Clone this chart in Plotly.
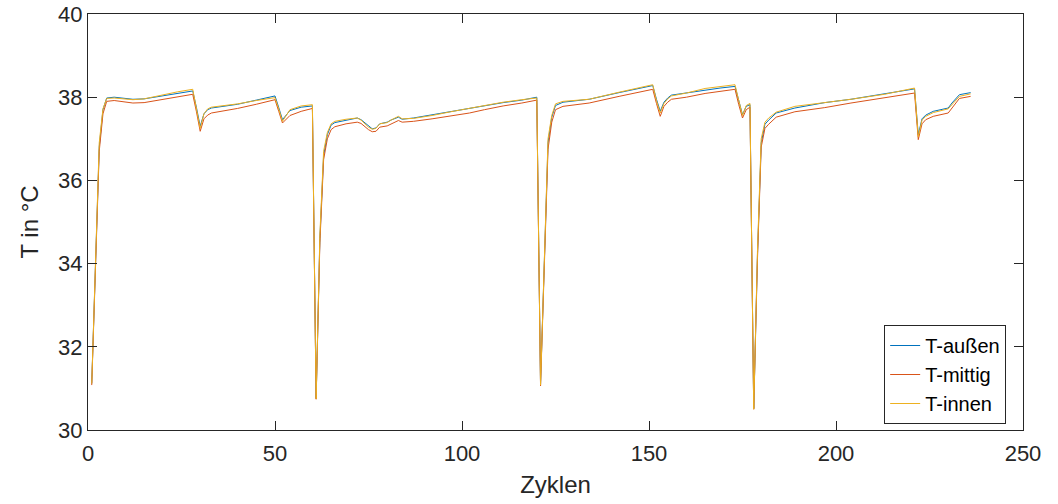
import plotly.graph_objects as go

cycles = [1, 2, 3, 4, 5, 7, 9, 12, 15, 20, 24, 28, 29, 30, 31, 32, 33, 40, 45, 50,
          51, 52, 54, 57, 60, 61, 62, 63, 64, 65, 66, 69, 72, 73, 75, 76, 77, 78, 80, 81,
          83, 84, 87, 92, 97, 102, 106, 111, 116, 120, 121, 122, 123, 124, 125, 127, 134, 142, 147, 151,
          152, 153, 154, 155, 156, 160, 165, 169, 173, 174, 175, 176, 177, 178, 179, 180, 181, 182, 184, 189,
          197, 204, 213, 221, 222, 223, 224, 226, 230, 231, 233, 236]

t_aussen = [31.12, 34.0, 36.8, 37.7, 37.98, 38.00, 37.98, 37.95, 37.96, 38.04, 38.10, 38.15, 37.75, 37.30, 37.60, 37.70, 37.74, 37.83, 37.93, 38.03,
            37.75, 37.46, 37.68, 37.76, 37.79, 30.76, 34.6, 36.6, 37.1, 37.33, 37.39, 37.45, 37.50, 37.46, 37.30, 37.24, 37.26, 37.36, 37.40, 37.45,
            37.52, 37.47, 37.50, 37.58, 37.65, 37.74, 37.80, 37.87, 37.93, 38.00, 31.10, 33.9, 36.9, 37.52, 37.80, 37.88, 37.95, 38.11, 38.20, 38.28,
            37.95, 37.66, 37.88, 37.98, 38.05, 38.10, 38.18, 38.22, 38.26, 37.90, 37.58, 37.78, 37.82, 30.52, 34.2, 36.9, 37.35, 37.45, 37.62, 37.74,
            37.87, 37.95, 38.08, 38.20, 37.10, 37.48, 37.57, 37.66, 37.74, 37.86, 38.06, 38.11]

t_mittig = [31.08, 33.9, 36.7, 37.6, 37.90, 37.92, 37.90, 37.86, 37.87, 37.95, 38.02, 38.07, 37.65, 37.18, 37.48, 37.57, 37.62, 37.73, 37.83, 37.94,
            37.66, 37.38, 37.56, 37.66, 37.73, 30.74, 34.5, 36.5, 37.0, 37.22, 37.29, 37.36, 37.40, 37.37, 37.22, 37.17, 37.18, 37.28, 37.31, 37.36,
            37.44, 37.40, 37.42, 37.48, 37.55, 37.62, 37.70, 37.79, 37.86, 37.93, 31.06, 33.8, 36.75, 37.40, 37.70, 37.78, 37.86, 38.02, 38.11, 38.19,
            37.85, 37.54, 37.78, 37.88, 37.95, 38.00, 38.09, 38.14, 38.19, 37.82, 37.50, 37.70, 37.76, 30.50, 34.1, 36.8, 37.25, 37.35, 37.52, 37.65,
            37.75, 37.86, 37.98, 38.10, 36.98, 37.36, 37.46, 37.54, 37.62, 37.74, 37.97, 38.02]

t_innen = [31.12, 34.1, 36.9, 37.72, 37.97, 37.98, 37.96, 37.94, 37.96, 38.06, 38.13, 38.19, 37.72, 37.25, 37.60, 37.72, 37.76, 37.84, 37.92, 37.99,
           37.72, 37.42, 37.70, 37.79, 37.82, 30.75, 34.7, 36.7, 37.15, 37.36, 37.42, 37.47, 37.50, 37.45, 37.28, 37.23, 37.25, 37.36, 37.39, 37.45,
           37.54, 37.48, 37.49, 37.56, 37.65, 37.73, 37.80, 37.88, 37.94, 37.98, 31.08, 34.0, 37.0, 37.56, 37.84, 37.90, 37.95, 38.12, 38.22, 38.30,
           37.92, 37.62, 37.85, 37.96, 38.03, 38.10, 38.21, 38.25, 38.30, 37.92, 37.56, 37.80, 37.85, 30.50, 34.3, 37.0, 37.40, 37.50, 37.64, 37.78,
           37.87, 37.95, 38.07, 38.22, 37.05, 37.45, 37.54, 37.63, 37.72, 37.82, 38.02, 38.08]

series = [("T-außen", t_aussen, "#0072BD"),
          ("T-mittig", t_mittig, "#D95319"),
          ("T-innen", t_innen, "#EDB120")]

x_ticks = [0, 50, 100, 150, 200, 250]
y_ticks = [30, 32, 34, 36, 38, 40]

FONT = "Liberation Sans, Arial, sans-serif"

fig = go.Figure()
for name, vals, col in series:
    fig.add_trace(go.Scatter(x=cycles, y=vals, mode="lines", name=name,
                             line=dict(color=col, width=1)))

axis_common = dict(showgrid=False, zeroline=False, showline=True, linecolor="#262626",
                   linewidth=1, mirror="ticks", ticks="inside", ticklen=9,
                   tickcolor="#262626", tickwidth=1, automargin=False,
                   tickfont=dict(family=FONT, size=22, color="#262626"))

fig.update_layout(
    width=1058, height=504,
    margin=dict(l=88, r=35, t=14, b=74),
    paper_bgcolor="white", plot_bgcolor="white",
    font=dict(family=FONT, color="#262626"),
    xaxis=dict(range=[0, 250], tickvals=x_ticks, ticklabelstandoff=4,
               title=dict(text="Zyklen", font=dict(size=24, color="#262626"), standoff=10),
               **axis_common),
    yaxis=dict(range=[30, 40], tickvals=y_ticks,
               title=dict(text="T in °C", font=dict(size=24, color="#262626"), standoff=12),
               **axis_common),
    legend=dict(x=0.982, y=0.0144, xanchor="right", yanchor="bottom",
                bgcolor="white", bordercolor="#262626", borderwidth=1,
                font=dict(family=FONT, size=20, color="#000000"), tracegroupgap=0),
    showlegend=True,
    hovermode=False,
)

fig.write_html("out.html", config={"displayModeBar": False},
               post_script="document.body.style.margin='0';")
